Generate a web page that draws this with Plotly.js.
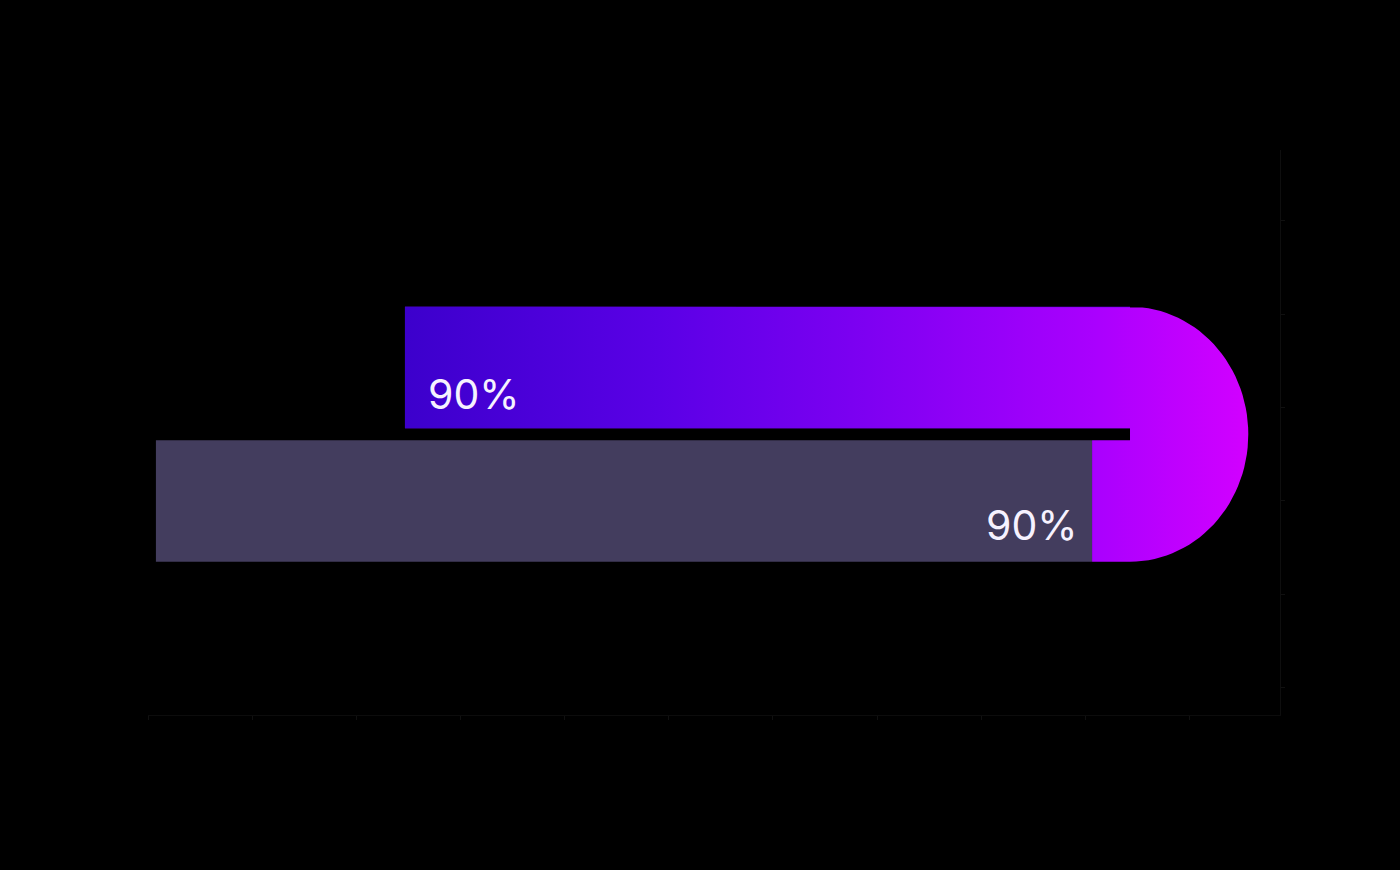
<!DOCTYPE html>
<html>
<head>
<meta charset="utf-8">
<script src="https://cdn.plot.ly/plotly-3.0.1.min.js"></script>
<style>
  html, body { margin: 0; padding: 0; background: #000; }
  #chart { width: 1400px; height: 870px; }
</style>
</head>
<body>
<div id="chart"></div>
<script>
// two bars, the upper one turns round into the lower one through a half-round cap
var barNames = ['upper', 'lower'];
var barPos = [1, 0];
var barStart = [22.7, 0.7];
var barEnd = [86.75, 83.4];
var barLabels = ['90%', '90%'];
var capRight = 97.2;

var barWidth = 0.91;
var half = barWidth / 2;

// outline of the purple band: upper bar + cap + short piece on the lower row
var cx = barEnd[0];
var cy = (barPos[0] + barPos[1]) / 2;
var rx = capRight - cx;
var ry = barPos[0] + half - cy;
var px = [barStart[0], cx];
var py = [barPos[0] + half, barPos[0] + half];
for (var i = 0; i <= 60; i++) {
  var a = Math.PI / 2 - Math.PI * i / 60;
  px.push(cx + rx * Math.cos(a));
  py.push(cy + ry * Math.sin(a));
}
px.push(barEnd[1], barEnd[1], cx, cx, barStart[0], barStart[0]);
py.push(barPos[1] - half, barPos[1] + half, barPos[1] + half, barPos[0] - half, barPos[0] - half, barPos[0] + half);

var lengths = [];
for (var i = 0; i < barNames.length; i++) lengths.push(barEnd[i] - barStart[i]);

var data = [
  {
    type: 'bar', orientation: 'h',
    y: barPos, x: lengths, base: barStart,
    width: barWidth,
    marker: { color: ['#7000f0', '#433d5e'], line: { width: 0 } },
    hoverinfo: 'skip', showlegend: false
  },
  {
    type: 'scatter', mode: 'lines',
    x: px, y: py,
    fill: 'toself',
    fillgradient: {
      type: 'horizontal',
      colorscale: [[0, '#3c00cc'], [0.3, '#5a00e6'], [0.55, '#7e00f2'], [0.82, '#aa00fe'], [1, '#d200ff']]
    },
    line: { width: 0 },
    hoverinfo: 'skip', showlegend: false
  }
];

var labelFont = { family: 'Inter, "Noto Sans", sans-serif', size: 41, color: '#f6f2ff' };

var layout = {
  width: 1400, height: 870,
  paper_bgcolor: '#000', plot_bgcolor: '#000',
  margin: { l: 148, r: 120, t: 150, b: 155 },
  barmode: 'overlay',
  xaxis: {
    range: [0, 100], showgrid: false, zeroline: false,
    showline: true, linecolor: '#0c0c0c', linewidth: 1,
    ticks: 'outside', tickcolor: '#101010', ticklen: 4, dtick: 9.2,
    showticklabels: false, fixedrange: true
  },
  yaxis: {
    range: [-1.603, 2.629], side: 'right', showgrid: false, zeroline: false,
    showline: true, linecolor: '#0e0e0e', linewidth: 1,
    ticks: 'outside', tickcolor: '#101010', ticklen: 4, dtick: 0.7,
    showticklabels: false, fixedrange: true
  },
  annotations: [
    {
      x: barStart[0], y: barPos[0] - half, xref: 'x', yref: 'y',
      text: barLabels[0], showarrow: false,
      xanchor: 'left', yanchor: 'bottom', xshift: 21, yshift: 7,
      font: labelFont
    },
    {
      x: barEnd[1], y: barPos[1] - half, xref: 'x', yref: 'y',
      text: barLabels[1], showarrow: false,
      xanchor: 'right', yanchor: 'bottom', xshift: -12, yshift: 10,
      font: labelFont
    }
  ]
};

Plotly.newPlot('chart', data, layout, { displayModeBar: false, staticPlot: true });
</script>
</body>
</html>
